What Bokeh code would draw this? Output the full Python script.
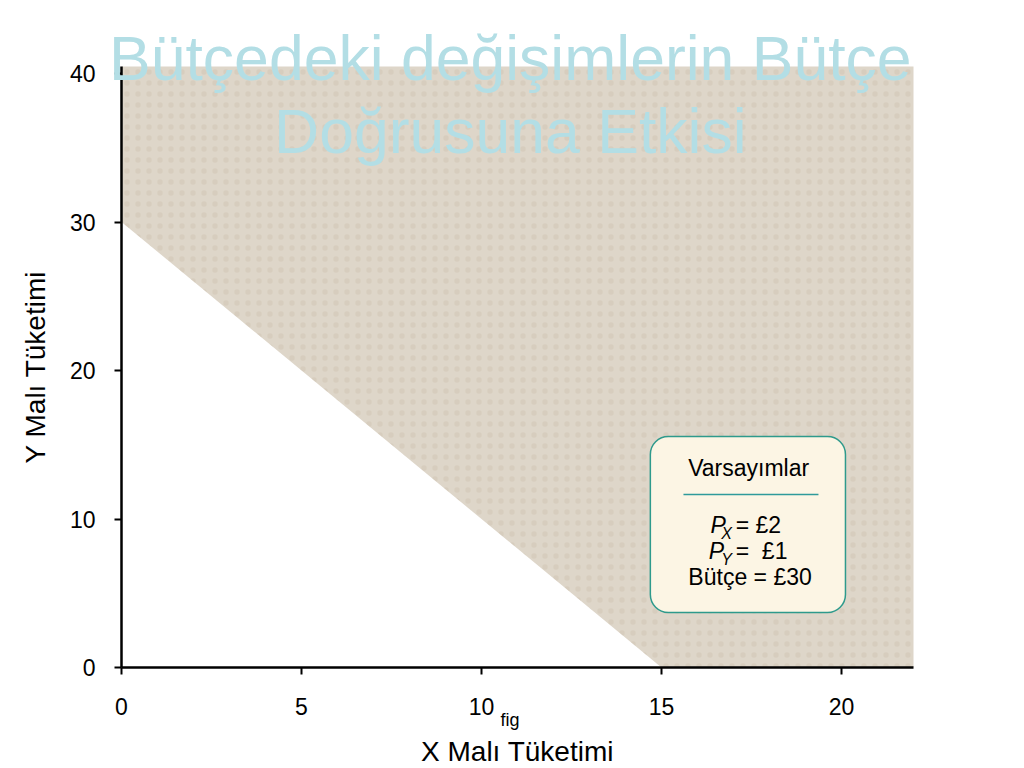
from bokeh.plotting import figure
from bokeh.models import BoxAnnotation, Label, FixedTicker, Range1d
from bokeh.embed import file_html
from bokeh.resources import INLINE

# ---- data ----
price_x = 2
price_y = 1
budget = 30
x_ticks = [0, 5, 10, 15, 20]
y_ticks = [0, 10, 20, 30, 40]
x_axis_end = 22.0
y_axis_end = 40.47
title_lines = ["Bütçedeki değişimlerin Bütçe", "Doğrusuna Etkisi"]
x_label = "X Malı Tüketimi"
y_label = "Y Malı Tüketimi"
box_title = "Varsayımlar"
note = "fig"

x_int = budget / price_x   # 15
y_int = budget / price_y   # 30

FONT = "Liberation Sans"
W, H = 1016, 768

# the frame fills the canvas so that texts may overlap the axes freely
p = figure(width=W, height=H, output_backend="svg", toolbar_location=None,
           x_range=Range1d(-3.361, 24.861), y_range=Range1d(-6.801, 44.916),
           frame_width=W, frame_height=H, min_border=0)
p.outline_line_color = None
p.xgrid.visible = False
p.ygrid.visible = False
p.background_fill_color = "white"
p.border_fill_color = "white"

# shaded (unaffordable) region above the budget line
p.patch([0, 0, x_axis_end, x_axis_end, x_int], [y_int, y_axis_end, y_axis_end, 0, 0],
        fill_color="#ded6c9", line_color=None, hatch_pattern="dot",
        hatch_color="#c6b9a6", hatch_scale=11, hatch_alpha=0.3)

for ax, ticks, bnd in ((p.xaxis[0], x_ticks, (0, x_axis_end)), (p.yaxis[0], y_ticks, (0, y_axis_end))):
    ax.ticker = FixedTicker(ticks=ticks)
    ax.fixed_location = 0
    ax.bounds = bnd
    ax.axis_line_width = 2.5
    ax.axis_line_color = "black"
    ax.major_tick_line_width = 2
    ax.major_tick_out = 7
    ax.major_tick_in = 0
    ax.minor_tick_out = 0
    ax.minor_tick_in = 0
    ax.major_label_text_font = FONT
    ax.major_label_text_font_size = "23px"
    ax.major_label_text_color = "black"
    ax.axis_label_text_font = FONT
    ax.axis_label_text_font_size = "28px"
    ax.axis_label_text_font_style = "normal"
    ax.axis_label_text_color = "black"

p.xaxis.axis_label = x_label
p.yaxis.axis_label = y_label
p.xaxis.major_label_standoff = 23
p.xaxis.axis_label_standoff = 18
p.yaxis.major_label_standoff = 19
p.yaxis.axis_label_standoff = 16


def lab(x, y, text, size, align="left", style="normal", color="black", level="annotation"):
    p.add_layout(Label(x=x, y=y, text=text, text_font=FONT, text_font_size=f"{size}px",
                       text_font_style=style, text_align=align, text_baseline="bottom",
                       text_color=color, level=level))


# "fig" note next to the 10 tick
lab(10.53, -4.22, note, 18)

# assumptions box
p.add_layout(BoxAnnotation(left=14.69, right=20.11, top=15.56, bottom=3.70,
                           fill_color="#fcf5e4", fill_alpha=1.0, line_color="#2e9a8c",
                           line_alpha=1.0, line_width=1.5, border_radius=18))
p.add_layout(BoxAnnotation(left=15.61, right=19.36, top=11.70, bottom=11.60,
                           fill_color="#2e9a9a", fill_alpha=1.0, line_color=None))
lab(17.42, 12.59, box_title, 23, align="center")
lab(16.36, 8.75, "P", 23, style="italic")
lab(16.66, 8.46, "X", 16, style="italic")
lab(17.06, 8.75, f"= £{price_x}", 23)
lab(16.31, 7.00, "P", 23, style="italic")
lab(16.66, 6.71, "Y", 16, style="italic")
lab(17.06, 7.00, f"=\u00a0\u00a0£{price_y}", 23)
lab(17.46, 5.19, f"Bütçe = £{budget}", 23, align="center")

# title overlapping the plot, drawn above everything
lab(10.80, 38.70, title_lines[0], 62.5, align="center", color="#b3dee5", level="overlay")
lab(10.80, 33.80, title_lines[1], 62.5, align="center", color="#b3dee5", level="overlay")

open("out.html", "w").write(file_html(p, INLINE))
